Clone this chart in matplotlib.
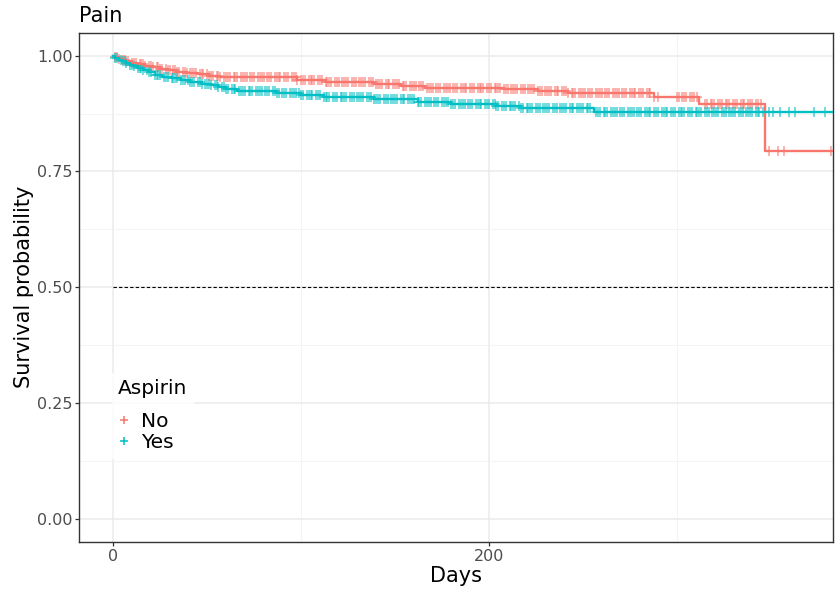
import numpy as np
import matplotlib.pyplot as plt
from matplotlib.lines import Line2D
from matplotlib.ticker import MultipleLocator

# Kaplan-Meier steps (time in days, survival after the step)
no_times = [0, 1, 3, 5, 7, 10, 13, 17, 21, 25, 29, 34, 39, 45, 51, 57, 98,
            113, 139, 153, 166, 208, 226, 242, 288, 312, 347]
no_surv = [1.0, 0.997, 0.994, 0.991, 0.988, 0.985, 0.982, 0.978, 0.975,
           0.972, 0.969, 0.966, 0.963, 0.960, 0.957, 0.954, 0.948, 0.943,
           0.939, 0.935, 0.931, 0.928, 0.923, 0.919, 0.911, 0.895, 0.795]

yes_times = [0, 1, 3, 5, 7, 9, 11, 13, 16, 19, 22, 26, 31, 36, 41, 47, 52, 56,
             60, 66, 87, 100, 112, 139, 162, 180, 204, 217, 256]
yes_surv = [1.0, 0.996, 0.992, 0.988, 0.984, 0.980, 0.977, 0.974, 0.969,
            0.964, 0.959, 0.955, 0.951, 0.947, 0.944, 0.940, 0.936, 0.932,
            0.928, 0.923, 0.919, 0.915, 0.910, 0.906, 0.901, 0.896, 0.892,
            0.887, 0.879]

last_day = 384

# censored observations
no_censor = [
    1, 2, 3, 5, 6, 7, 8, 10, 11, 12, 14, 15, 16, 17, 19, 20, 21, 23, 24, 25,
    26, 28, 29, 30, 32, 33, 34, 35, 37, 38, 39, 41, 42, 43, 44, 46, 47, 48, 50, 51,
    52, 53, 55, 56, 57, 59, 60, 61, 62, 64, 65, 66, 68, 69, 70, 71, 73, 74, 75, 77,
    78, 79, 80, 82, 83, 84, 86, 87, 88, 89, 91, 92, 93, 95, 96, 97, 98, 100, 101, 102,
    104, 105, 106, 107, 109, 110, 111, 113, 114, 115, 116, 118, 119, 120, 122, 123,
    124, 125, 127, 128, 129, 131, 132, 133, 134, 136, 137, 138, 140, 141, 142, 143,
    145, 146, 147, 149, 150, 151, 152, 154, 155, 156, 158, 159, 160, 161, 163, 164,
    165, 167, 168, 169, 170, 172, 173, 174, 176, 177, 178, 179, 181, 182, 183, 185,
    186, 187, 188, 190, 191, 192, 194, 195, 196, 197, 199, 200, 201, 203, 204, 205,
    206, 208, 209, 210, 212, 213, 214, 215, 217, 218, 219, 221, 222, 223, 224, 226,
    227, 228, 230, 231, 232, 233, 235, 236, 237, 239, 240, 241, 242, 244, 245, 246,
    248, 249, 250, 251, 253, 254, 255, 257, 258, 259, 260, 262, 263, 264, 266, 267,
    268, 269, 271, 272, 273, 275, 276, 277, 278, 280, 281, 282, 284, 285, 286, 288,
    290, 300, 301, 303, 304, 305, 307, 308, 309, 311, 315, 316, 318, 319, 320, 322,
    323, 324, 326, 327, 328, 330, 331, 332, 334, 335, 336, 338, 339, 340, 342, 343,
    345, 349, 354, 357, 382]
yes_censor = [
    1, 2, 4, 5, 6, 7, 9, 10, 11, 13, 14, 15, 16, 18, 19, 20, 22, 23, 24, 25,
    27, 28, 29, 31, 32, 33, 34, 36, 37, 38, 40, 41, 42, 43, 45, 46, 47, 49, 50, 51,
    52, 54, 55, 56, 58, 59, 60, 61, 63, 64, 65, 67, 68, 69, 70, 72, 73, 74, 76, 77,
    78, 79, 81, 82, 83, 85, 86, 87, 88, 90, 91, 92, 94, 95, 96, 97, 99, 100, 101, 103,
    104, 105, 106, 108, 109, 110, 112, 113, 114, 115, 117, 118, 119, 121, 122, 123,
    124, 126, 127, 128, 130, 131, 132, 133, 135, 136, 137, 139, 140, 141, 142, 144,
    145, 146, 148, 149, 150, 151, 153, 154, 155, 157, 158, 159, 160, 162, 163, 164,
    166, 167, 168, 169, 171, 172, 173, 175, 176, 177, 178, 180, 181, 182, 184, 185,
    186, 187, 189, 190, 191, 193, 194, 195, 196, 198, 199, 200, 202, 203, 204, 205,
    207, 208, 209, 211, 212, 213, 214, 216, 217, 218, 220, 221, 222, 223, 225, 226,
    227, 229, 230, 231, 232, 234, 235, 236, 238, 239, 240, 241, 243, 244, 245, 247,
    248, 249, 250, 252, 253, 254, 257, 258, 259, 261, 262, 263, 265, 266, 267, 268,
    270, 271, 272, 274, 275, 276, 277, 279, 280, 281, 283, 284, 285, 286, 288, 289,
    290, 292, 293, 294, 295, 297, 298, 299, 301, 302, 303, 304, 306, 307, 308, 310,
    311, 312, 313, 315, 316, 317, 319, 320, 321, 322, 324, 325, 326, 328, 329, 330,
    331, 333, 334, 335, 337, 338, 339, 340, 342, 343, 344, 346, 349, 351, 355, 360,
    363, 373, 379]

groups = ['No', 'Yes']
colors = ['#F8766D', '#00BFC4']

fig = plt.figure(figsize=(8.35, 5.92), dpi=100)
ax = fig.add_axes([0.095, 0.085, 0.9022, 0.8598])

# grid
ax.xaxis.set_major_locator(MultipleLocator(200))
ax.xaxis.set_minor_locator(MultipleLocator(100))
ax.yaxis.set_major_locator(MultipleLocator(0.25))
ax.yaxis.set_minor_locator(MultipleLocator(0.125))
ax.grid(which='major', color='#EBEBEB', lw=1.1)
ax.grid(which='minor', color='#F2F2F2', lw=0.6)
ax.set_axisbelow(True)

ax.plot([0, last_day], [0.5, 0.5], ls=(0, (3, 2)), color='black', lw=0.8)

data = [(no_times, no_surv, no_censor), (yes_times, yes_surv, yes_censor)]
for (t, s, c), col in zip(data, colors):
    idx = np.searchsorted(t, c, side='right') - 1
    cy = np.array(s)[idx]
    ax.plot(c, cy, ls='none', marker='+', ms=6.5, mew=1.1, color=col,
            alpha=0.7, zorder=2)
    tt = list(t) + [last_day]
    ss = list(s) + [s[-1]]
    ax.step(tt, ss, where='post', color=col, lw=1.7, zorder=3)

ax.set_xlim(-18.1, 383)
ax.set_ylim(-0.05, 1.05)
ax.set_yticks([0, 0.25, 0.5, 0.75, 1.0])
ax.set_yticklabels(['0.00', '0.25', '0.50', '0.75', '1.00'])
ax.set_xticks([0, 200])

for sp in ax.spines.values():
    sp.set_color('#333333')
    sp.set_linewidth(1.0)
ax.tick_params(which='major', length=3, width=0.9, color='#333333',
               labelcolor='#4D4D4D', labelsize=11.5, pad=2)
ax.tick_params(which='minor', length=0)

ax.set_xlabel('Days', fontsize=15, labelpad=2)
ax.set_ylabel('Survival probability', fontsize=15, labelpad=2)
ax.set_title('Pain', loc='left', fontsize=15, pad=7.5)

handles = [Line2D([], [], ls='none', marker='+', ms=5.5, mew=1.1, color=c)
           for c in colors]
leg = ax.legend(handles, groups, title='Aspirin', loc='upper left',
                bbox_to_anchor=(0.030, 0.352), fontsize=14.5, title_fontsize=14.5,
                frameon=True, fancybox=False, edgecolor='white',
                handlelength=0.6, handletextpad=0.55, labelspacing=0.1,
                borderpad=0.3)
leg._legend_box.align = 'left'
leg._legend_box.sep = 10.5

fig.savefig('out.png', dpi=100)
